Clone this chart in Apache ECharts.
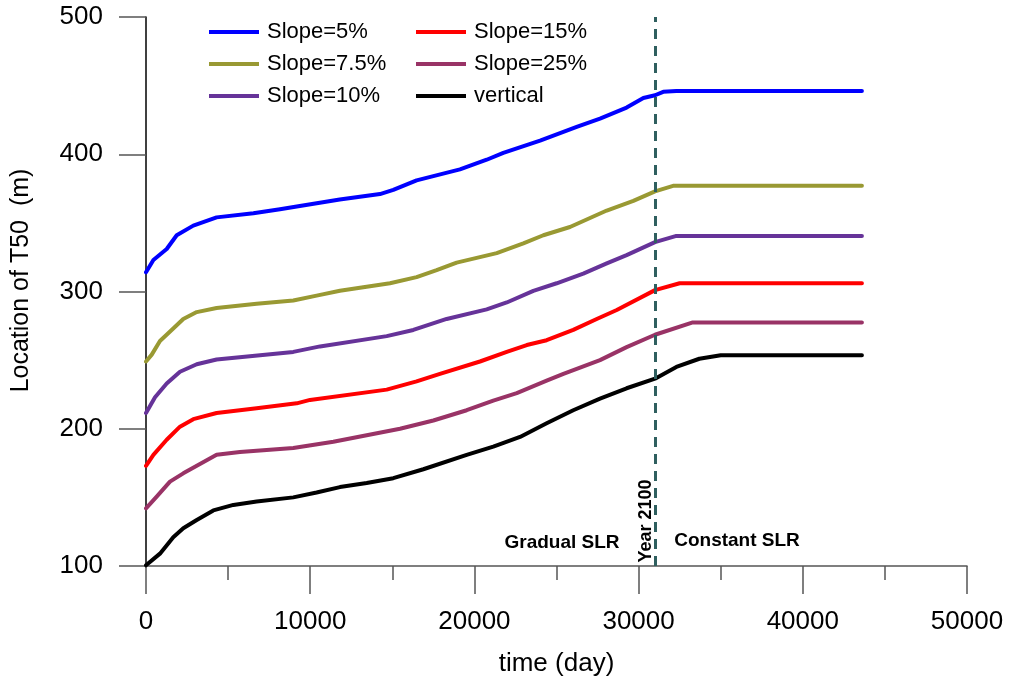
<!DOCTYPE html>
<html>
<head>
<meta charset="utf-8">
<script src="https://cdn.jsdelivr.net/npm/echarts@6/dist/echarts.min.js"></script>
<style>
  html, body { margin: 0; padding: 0; background: #fff; }
  #chart { width: 1009px; height: 686px; }
</style>
</head>
<body>
<div id="chart"></div>
<script>
// values: [time (day), location of T50 (m)]
var slope5 = [[0,314],[450,323],[1260,331],[1870,341],[2880,348],[4300,354],[6540,357],[8160,360],[9180,362],[11800,367],[14250,371],[15060,374],[16480,381],[19120,389],[20750,396],[21760,401],[24000,410],[26230,420],[27650,426],[29270,434],[30290,441],[31000,443],[31500,445.5],[32300,446],[43600,446]];
var slope75 = [[0,249],[350,254],[850,264],[1660,273],[2270,280],[3090,285],[4300,288],[6740,291],[8970,293.5],[10390,297],[11810,300.5],[14860,306],[16480,310.5],[17700,315.5],[18920,321],[21360,328],[22980,335],[24200,341],[25820,347],[28060,359],[29680,366],[31000,373],[32100,377],[43600,377]];
var slope10 = [[0,211.5],[550,223],[1260,233],[2070,241.5],[3090,247],[4300,250.5],[8970,256],[10600,260],[14660,267.5],[16280,272],[18310,280],[20750,287],[21970,292],[23590,300.5],[25010,306],[26630,313],[28060,320.5],[29270,326.5],[31000,336],[32300,340.5],[43600,340.5]];
var slope15 = [[0,173],[450,181],[1260,192],[2070,201.5],[2880,207],[4300,211.5],[6740,215],[9180,218.5],[9990,221],[14660,228.5],[16480,234.5],[17900,240],[20340,249],[21970,256],[23190,261],[24400,264.5],[26020,272],[27450,280],[28670,286.5],[31000,301],[32500,306],[43600,306]];
var slope25 = [[0,142],[650,150.5],[1460,161.5],[2270,167.5],[4300,181],[5720,183],[8970,186],[11410,190.5],[15470,200],[17500,206],[19530,213.5],[21150,220.5],[22580,226],[24400,235],[25420,240],[27650,250],[29270,259.5],[31000,268.5],[33300,277.5],[43600,277.5]];
var vertical = [[0,100.5],[850,109],[1660,121],[2270,127.5],[3090,133.5],[4100,140.5],[5320,144.5],[6740,147],[8970,150],[10390,153.5],[11810,157.5],[13440,160.5],[15060,164],[16890,170.5],[19530,181],[21150,187],[22780,194],[24400,204],[26020,213.5],[27650,222],[29270,229.5],[31000,236.5],[32300,245],[33700,251],[35000,253.5],[43600,253.5]];

var seriesNames = ['Slope=5%', 'Slope=7.5%', 'Slope=10%', 'Slope=15%', 'Slope=25%', 'vertical'];
var seriesData = [slope5, slope75, slope10, slope15, slope25, vertical];
var seriesColors = ['#0000ff', '#999933', '#663399', '#ff0000', '#993366', '#000000'];

var year2100 = 31000; // day of year 2100
var yMin = 100, yMax = 500;

var FONT = 'Liberation Sans, Arial, sans-serif';

var chart = echarts.init(document.getElementById('chart'));

var series = seriesData.map(function (d, i) {
  return {
    name: seriesNames[i],
    type: 'line',
    data: d,
    smooth: false,
    symbol: 'none',
    lineStyle: { color: seriesColors[i], width: 4, cap: 'round', join: 'round' },
    itemStyle: { color: seriesColors[i] },
    z: 3
  };
});

// dashed line at year 2100
series[0].markLine = {
  silent: true,
  symbol: 'none',
  label: { show: false },
  lineStyle: { color: '#2f5f5f', width: 3, type: [10, 7] },
  data: [[{ coord: [year2100, yMin] }, { coord: [year2100, yMax] }]]
};

function legendCol(left, names) {
  return {
    orient: 'vertical',
    left: left,
    top: 15,
    itemGap: 8,
    itemWidth: 50,
    itemHeight: 4,
    icon: 'rect',
    data: names,
    textStyle: { fontFamily: FONT, fontSize: 22, color: '#000', lineHeight: 24, padding: [0, 0, 0, 3] }
  };
}

chart.setOption({
  animation: false,
  backgroundColor: '#fff',
  grid: { left: 146, right: 42, top: 17, bottom: 120 },
  legend: [
    legendCol(204, ['Slope=5%', 'Slope=7.5%', 'Slope=10%']),
    legendCol(411, ['Slope=15%', 'Slope=25%', 'vertical'])
  ],
  xAxis: {
    type: 'value',
    min: 0,
    max: 50000,
    interval: 10000,
    name: 'time (day)',
    nameLocation: 'middle',
    nameGap: 85,
    nameTextStyle: { fontFamily: FONT, fontSize: 26, color: '#000' },
    axisLine: { show: true, onZero: false, lineStyle: { color: '#555', width: 1.5 } },
    axisTick: { show: true, inside: false, length: 28, lineStyle: { color: '#555', width: 1.5 } },
    minorTick: { show: true, splitNumber: 2, length: 14, lineStyle: { color: '#555', width: 1.5 } },
    axisLabel: {
      fontFamily: FONT, fontSize: 26, color: '#000', margin: 43,
      formatter: function (v) { return String(v); }
    },
    splitLine: { show: false }
  },
  yAxis: {
    type: 'value',
    min: yMin,
    max: yMax,
    interval: 100,
    name: 'Location of T50  (m)',
    nameLocation: 'middle',
    nameGap: 112,
    nameTextStyle: { fontFamily: FONT, fontSize: 25, color: '#000', padding: [0, 0, 0, 22] },
    axisLine: { show: true, onZero: false, lineStyle: { color: '#000', width: 1.5 } },
    axisTick: { show: true, inside: false, length: 27, lineStyle: { color: '#555', width: 1.5 } },
    axisLabel: { fontFamily: FONT, fontSize: 26, color: '#000', margin: 43 },
    splitLine: { show: false }
  },
  graphic: [
    {
      type: 'text', x: 562, y: 543,
      style: { text: 'Gradual SLR', font: 'bold 19px ' + FONT, fill: '#000', align: 'center', verticalAlign: 'middle' }
    },
    {
      type: 'text', x: 737, y: 541,
      style: { text: 'Constant SLR', font: 'bold 19px ' + FONT, fill: '#000', align: 'center', verticalAlign: 'middle' }
    },
    {
      type: 'text', x: 646, y: 521, rotation: Math.PI / 2,
      style: { text: 'Year 2100', font: 'bold 18px ' + FONT, fill: '#000', align: 'center', verticalAlign: 'middle' }
    }
  ],
  series: series
});
</script>
</body>
</html>
